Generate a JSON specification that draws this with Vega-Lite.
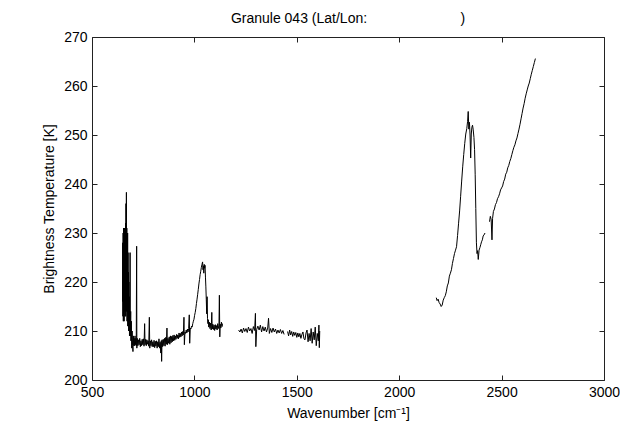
{
  "$schema": "https://vega.github.io/schema/vega-lite/v6.json",
  "autosize": "none",
  "width": 512,
  "height": 343,
  "padding": {"left": 92, "top": 37, "right": 16, "bottom": 47},
  "background": "white",
  "title": {"text": "Granule 043 (Lat/Lon:\u00a0\u00a0\u00a0\u00a0\u00a0\u00a0\u00a0\u00a0\u00a0\u00a0\u00a0\u00a0\u00a0\u00a0\u00a0\u00a0\u00a0\u00a0\u00a0\u00a0\u00a0\u00a0\u00a0\u00a0)", "anchor": "middle", "offset": 4},
  "config": {
    "font": "Liberation Sans",
    "view": {"stroke": "#222", "strokeWidth": 1},
    "title": {"font": "Liberation Sans", "fontSize": 14, "fontWeight": "normal", "color": "black"},
    "axis": {"labelFont": "Liberation Sans", "labelFontSize": 14, "labelColor": "black", "titleFont": "Liberation Sans", "titleFontSize": 14, "titleFontWeight": "normal", "titleColor": "black", "grid": false, "domain": false, "tickColor": "#222", "tickSize": -5, "labelPadding": 10, "labelFlush": false, "labelOverlap": false, "format": "d"}
  },
  "data": {"values": [
    {"s":"A","w":649,"t":216},{"s":"A","w":650,"t":228},{"s":"A","w":651,"t":213},{"s":"A","w":652,"t":230},{"s":"A","w":653,"t":212},{"s":"A","w":654,"t":231},{"s":"A","w":655,"t":214},{"s":"A","w":656,"t":229},{"s":"A","w":657,"t":212},{"s":"A","w":658,"t":231},{"s":"A","w":659,"t":215},{"s":"A","w":660,"t":230},{"s":"A","w":661,"t":213},{"s":"A","w":662,"t":231},{"s":"A","w":663,"t":214},{"s":"A","w":664,"t":232},{"s":"A","w":665,"t":213},{"s":"A","w":666,"t":236},{"s":"A","w":667,"t":215},{"s":"A","w":668,"t":238.3},{"s":"A","w":669,"t":214},{"s":"A","w":670,"t":231},{"s":"A","w":671,"t":212},{"s":"A","w":672,"t":229},{"s":"A","w":673,"t":214},{"s":"A","w":674,"t":230},{"s":"A","w":675,"t":211},{"s":"A","w":676,"t":226},{"s":"A","w":677,"t":211},{"s":"A","w":678,"t":222},{"s":"A","w":679,"t":210},{"s":"A","w":680,"t":220},{"s":"A","w":681,"t":212},{"s":"A","w":682,"t":217},{"s":"A","w":683,"t":209},{"s":"A","w":685,"t":213},{"s":"A","w":686,"t":226},{"s":"A","w":687,"t":209},{"s":"A","w":689,"t":214},{"s":"A","w":690,"t":208},{"s":"A","w":692,"t":212},{"s":"A","w":694,"t":206.5},{"s":"A","w":696,"t":210},{"s":"A","w":698,"t":207},{"s":"A","w":700,"t":205.8},{"s":"A","w":702,"t":209},{"s":"A","w":704,"t":207},{"s":"A","w":706,"t":208.5},{"s":"A","w":708,"t":207},{"s":"A","w":710,"t":209},{"s":"A","w":712,"t":207.2},{"s":"A","w":714,"t":208.5},{"s":"A","w":716,"t":207},{"s":"A","w":718,"t":227.3},{"s":"A","w":719,"t":206.5},{"s":"A","w":721,"t":208.5},{"s":"A","w":724,"t":207},{"s":"A","w":727,"t":208.2},{"s":"A","w":730,"t":207.2},{"s":"A","w":733,"t":208.5},{"s":"A","w":736,"t":206.8},{"s":"A","w":739,"t":208},{"s":"A","w":742,"t":207},{"s":"A","w":745,"t":208.3},{"s":"A","w":748,"t":207.2},{"s":"A","w":751,"t":208.4},{"s":"A","w":754,"t":206.9},{"s":"A","w":757,"t":211.5},{"s":"A","w":759,"t":207.2},{"s":"A","w":762,"t":208.3},{"s":"A","w":765,"t":207},{"s":"A","w":768,"t":208.2},{"s":"A","w":771,"t":207.3},{"s":"A","w":774,"t":208},{"s":"A","w":777,"t":206.9},{"s":"A","w":780,"t":212.8},{"s":"A","w":782,"t":206.5},{"s":"A","w":785,"t":208},{"s":"A","w":788,"t":207},{"s":"A","w":791,"t":208.2},{"s":"A","w":794,"t":206.8},{"s":"A","w":797,"t":207.8},{"s":"A","w":800,"t":206.8},{"s":"A","w":803,"t":208.1},{"s":"A","w":806,"t":206.6},{"s":"A","w":809,"t":207.9},{"s":"A","w":812,"t":206.9},{"s":"A","w":815,"t":208},{"s":"A","w":818,"t":206.5},{"s":"A","w":821,"t":207.8},{"s":"A","w":824,"t":206.8},{"s":"A","w":827,"t":208.4},{"s":"A","w":830,"t":206.5},{"s":"A","w":833,"t":207.7},{"s":"A","w":836,"t":205.5},{"s":"A","w":838,"t":208},{"s":"A","w":840,"t":203.8},{"s":"A","w":842,"t":208.2},{"s":"A","w":845,"t":206.8},{"s":"A","w":848,"t":208.3},{"s":"A","w":851,"t":207},{"s":"A","w":854,"t":208.5},{"s":"A","w":857,"t":206.9},{"s":"A","w":860,"t":208.7},{"s":"A","w":863,"t":207.3},{"s":"A","w":866,"t":210.6},{"s":"A","w":868,"t":207.2},{"s":"A","w":871,"t":208.5},{"s":"A","w":874,"t":207.5},{"s":"A","w":877,"t":208.8},{"s":"A","w":880,"t":207.3},{"s":"A","w":883,"t":209},{"s":"A","w":886,"t":207.6},{"s":"A","w":889,"t":208.9},{"s":"A","w":892,"t":207.8},{"s":"A","w":895,"t":209.1},{"s":"A","w":898,"t":208},{"s":"A","w":901,"t":209.2},{"s":"A","w":904,"t":208.1},{"s":"A","w":907,"t":209},{"s":"A","w":910,"t":208.3},{"s":"A","w":913,"t":209.3},{"s":"A","w":916,"t":208.5},{"s":"A","w":919,"t":209.2},{"s":"A","w":922,"t":208.4},{"s":"A","w":925,"t":209.6},{"s":"A","w":928,"t":208.7},{"s":"A","w":931,"t":209.5},{"s":"A","w":934,"t":208.8},{"s":"A","w":937,"t":209.8},{"s":"A","w":940,"t":209},{"s":"A","w":943,"t":209.9},{"s":"A","w":946,"t":209.2},{"s":"A","w":949,"t":212.8},{"s":"A","w":951,"t":207.2},{"s":"A","w":954,"t":209.8},{"s":"A","w":957,"t":209.5},{"s":"A","w":960,"t":210.2},{"s":"A","w":963,"t":209.6},{"s":"A","w":966,"t":210.4},{"s":"A","w":969,"t":209.8},{"s":"A","w":972,"t":210.5},{"s":"A","w":975,"t":213.3},{"s":"A","w":977,"t":207.5},{"s":"A","w":980,"t":210.6},{"s":"A","w":983,"t":210.4},{"s":"A","w":986,"t":211},{"s":"A","w":989,"t":210.8},{"s":"A","w":992,"t":211.5},{"s":"A","w":995,"t":212},{"s":"A","w":998,"t":212.4},{"s":"A","w":1001,"t":213.2},{"s":"A","w":1004,"t":213.8},{"s":"A","w":1007,"t":214.6},{"s":"A","w":1010,"t":215.6},{"s":"A","w":1013,"t":216.5},{"s":"A","w":1016,"t":217.5},{"s":"A","w":1019,"t":218.5},{"s":"A","w":1022,"t":219.6},{"s":"A","w":1025,"t":220.5},{"s":"A","w":1028,"t":221.5},{"s":"A","w":1031,"t":222.2},{"s":"A","w":1034,"t":223},{"s":"A","w":1037,"t":223.6},{"s":"A","w":1040,"t":224.1},{"s":"A","w":1042,"t":222.5},{"s":"A","w":1044,"t":223.3},{"s":"A","w":1046,"t":221.8},{"s":"A","w":1048,"t":223.6},{"s":"A","w":1050,"t":222.8},{"s":"A","w":1052,"t":223.4},{"s":"A","w":1054,"t":221},{"s":"A","w":1056,"t":219},{"s":"A","w":1058,"t":216.5},{"s":"A","w":1060,"t":213.5},{"s":"A","w":1062,"t":217},{"s":"A","w":1064,"t":212.5},{"s":"A","w":1066,"t":211.5},{"s":"A","w":1068,"t":212.3},{"s":"A","w":1070,"t":210.8},{"s":"A","w":1073,"t":211.8},{"s":"A","w":1076,"t":210.5},{"s":"A","w":1079,"t":211.6},{"s":"A","w":1082,"t":210.2},{"s":"A","w":1085,"t":213.8},{"s":"A","w":1087,"t":210.4},{"s":"A","w":1090,"t":211.4},{"s":"A","w":1093,"t":210.3},{"s":"A","w":1096,"t":211.2},{"s":"A","w":1099,"t":210.1},{"s":"A","w":1102,"t":211.3},{"s":"A","w":1105,"t":210.4},{"s":"A","w":1108,"t":211.1},{"s":"A","w":1111,"t":210.2},{"s":"A","w":1114,"t":211.5},{"s":"A","w":1117,"t":210.5},{"s":"A","w":1120,"t":211.2},{"s":"A","w":1122,"t":217.3},{"s":"A","w":1124,"t":208.8},{"s":"A","w":1126,"t":211.4},{"s":"A","w":1129,"t":210.6},{"s":"A","w":1132,"t":211.8},{"s":"A","w":1135,"t":210.9},{"s":"A","w":1137,"t":211.5},
    {"s":"B","w":1216,"t":210.2},{"s":"B","w":1222,"t":209.8},{"s":"B","w":1228,"t":210.4},{"s":"B","w":1234,"t":209.6},{"s":"B","w":1240,"t":210.6},{"s":"B","w":1246,"t":209.9},{"s":"B","w":1252,"t":210.5},{"s":"B","w":1258,"t":209.7},{"s":"B","w":1264,"t":210.8},{"s":"B","w":1270,"t":210},{"s":"B","w":1276,"t":210.5},{"s":"B","w":1282,"t":209.5},{"s":"B","w":1288,"t":210.9},{"s":"B","w":1294,"t":210.1},{"s":"B","w":1298,"t":213.6},{"s":"B","w":1300,"t":206.8},{"s":"B","w":1304,"t":210.3},{"s":"B","w":1310,"t":211},{"s":"B","w":1316,"t":210.2},{"s":"B","w":1322,"t":211.2},{"s":"B","w":1328,"t":209.8},{"s":"B","w":1334,"t":210.9},{"s":"B","w":1340,"t":210},{"s":"B","w":1346,"t":210.8},{"s":"B","w":1352,"t":209.8},{"s":"B","w":1358,"t":210.6},{"s":"B","w":1362,"t":212.6},{"s":"B","w":1366,"t":209.5},{"s":"B","w":1372,"t":210.5},{"s":"B","w":1378,"t":209.7},{"s":"B","w":1384,"t":210.6},{"s":"B","w":1390,"t":209.8},{"s":"B","w":1396,"t":210.4},{"s":"B","w":1402,"t":209.5},{"s":"B","w":1408,"t":210.2},{"s":"B","w":1414,"t":209.6},{"s":"B","w":1420,"t":210.3},{"s":"B","w":1426,"t":209.5},{"s":"B","w":1432,"t":210.1},{"s":"B","w":1438,"t":209.3},
    {"s":"B2","w":1455,"t":209.9},{"s":"B2","w":1460,"t":209},{"s":"B2","w":1465,"t":210.2},{"s":"B2","w":1470,"t":209.2},{"s":"B2","w":1475,"t":209.9},{"s":"B2","w":1480,"t":208.9},{"s":"B2","w":1485,"t":209.8},{"s":"B2","w":1490,"t":209.1},{"s":"B2","w":1495,"t":209.7},{"s":"B2","w":1500,"t":208.7},{"s":"B2","w":1505,"t":209.6},{"s":"B2","w":1510,"t":208.8},{"s":"B2","w":1515,"t":209.5},{"s":"B2","w":1520,"t":208.5},{"s":"B2","w":1525,"t":209.3},{"s":"B2","w":1530,"t":209.8},{"s":"B2","w":1535,"t":208.4},{"s":"B2","w":1540,"t":208.2},{"s":"B2","w":1545,"t":209.6},{"s":"B2","w":1550,"t":210.2},{"s":"B2","w":1555,"t":207.8},{"s":"B2","w":1560,"t":209.5},{"s":"B2","w":1565,"t":208},{"s":"B2","w":1570,"t":210.5},{"s":"B2","w":1575,"t":207.5},{"s":"B2","w":1580,"t":209.8},{"s":"B2","w":1585,"t":208.2},{"s":"B2","w":1590,"t":210.8},{"s":"B2","w":1595,"t":207},{"s":"B2","w":1600,"t":209.5},{"s":"B2","w":1605,"t":208},{"s":"B2","w":1608,"t":211.2},{"s":"B2","w":1610,"t":206.6},{"s":"B2","w":1612,"t":210},
    {"s":"C","w":2181,"t":216.8},{"s":"C","w":2185,"t":216.2},{"s":"C","w":2190,"t":216.5},{"s":"C","w":2195,"t":215.8},{"s":"C","w":2200,"t":215.5},{"s":"C","w":2205,"t":215},{"s":"C","w":2210,"t":215.3},{"s":"C","w":2215,"t":216.3},{"s":"C","w":2220,"t":216.8},{"s":"C","w":2225,"t":217.2},{"s":"C","w":2230,"t":218},{"s":"C","w":2235,"t":219.2},{"s":"C","w":2240,"t":219.8},{"s":"C","w":2245,"t":221.2},{"s":"C","w":2250,"t":221.8},{"s":"C","w":2255,"t":222.5},{"s":"C","w":2260,"t":223.8},{"s":"C","w":2265,"t":224.8},{"s":"C","w":2270,"t":225.8},{"s":"C","w":2275,"t":226.5},{"s":"C","w":2280,"t":227.2},{"s":"C","w":2285,"t":229.5},{"s":"C","w":2290,"t":232},{"s":"C","w":2295,"t":234.5},{"s":"C","w":2300,"t":237.5},{"s":"C","w":2305,"t":240.6},{"s":"C","w":2310,"t":243.5},{"s":"C","w":2315,"t":246},{"s":"C","w":2320,"t":248.3},{"s":"C","w":2325,"t":250.2},{"s":"C","w":2330,"t":251.3},{"s":"C","w":2334,"t":252.8},{"s":"C","w":2337,"t":254.8},{"s":"C","w":2340,"t":251.2},{"s":"C","w":2343,"t":252.6},{"s":"C","w":2346,"t":250},{"s":"C","w":2349,"t":245.3},{"s":"C","w":2352,"t":250.2},{"s":"C","w":2355,"t":251.6},{"s":"C","w":2358,"t":252},{"s":"C","w":2361,"t":251.2},{"s":"C","w":2365,"t":249.5},{"s":"C","w":2368,"t":247},{"s":"C","w":2371,"t":242},{"s":"C","w":2374,"t":235},{"s":"C","w":2377,"t":228},{"s":"C","w":2380,"t":225.8},{"s":"C","w":2383,"t":226.4},{"s":"C","w":2386,"t":224.6},{"s":"C","w":2390,"t":226.5},{"s":"C","w":2394,"t":227},{"s":"C","w":2398,"t":227.6},{"s":"C","w":2402,"t":228.2},{"s":"C","w":2406,"t":228.6},{"s":"C","w":2410,"t":229.4},{"s":"C","w":2414,"t":229.6},{"s":"C","w":2419,"t":230},
    {"s":"D","w":2441,"t":232.3},{"s":"D","w":2445,"t":233.4},{"s":"D","w":2449,"t":232.8},{"s":"D","w":2453,"t":228.6},{"s":"D","w":2456,"t":233},{"s":"D","w":2460,"t":234.4},{"s":"D","w":2465,"t":234.9},{"s":"D","w":2470,"t":235.8},{"s":"D","w":2475,"t":236.2},{"s":"D","w":2480,"t":237},{"s":"D","w":2485,"t":237.4},{"s":"D","w":2490,"t":238},{"s":"D","w":2495,"t":238.8},{"s":"D","w":2500,"t":239.2},{"s":"D","w":2505,"t":239.6},{"s":"D","w":2510,"t":240.5},{"s":"D","w":2515,"t":241},{"s":"D","w":2520,"t":242},{"s":"D","w":2525,"t":242.4},{"s":"D","w":2530,"t":243.3},{"s":"D","w":2535,"t":243.8},{"s":"D","w":2540,"t":244.6},{"s":"D","w":2545,"t":245.2},{"s":"D","w":2550,"t":246},{"s":"D","w":2555,"t":246.8},{"s":"D","w":2560,"t":247.5},{"s":"D","w":2565,"t":248},{"s":"D","w":2570,"t":248.8},{"s":"D","w":2575,"t":249.4},{"s":"D","w":2580,"t":250.3},{"s":"D","w":2585,"t":251.2},{"s":"D","w":2590,"t":252.2},{"s":"D","w":2595,"t":253.3},{"s":"D","w":2600,"t":254.4},{"s":"D","w":2605,"t":255.5},{"s":"D","w":2610,"t":256.4},{"s":"D","w":2615,"t":257.5},{"s":"D","w":2620,"t":258.4},{"s":"D","w":2625,"t":259.2},{"s":"D","w":2630,"t":260},{"s":"D","w":2635,"t":260.6},{"s":"D","w":2640,"t":261.5},{"s":"D","w":2645,"t":262.4},{"s":"D","w":2650,"t":263.2},{"s":"D","w":2655,"t":264},{"s":"D","w":2660,"t":264.8},{"s":"D","w":2665,"t":265.6}
  ]},
  "layer": [
    {
      "mark": {"type": "line", "color": "black", "strokeWidth": 1},
      "encoding": {
        "x": {"field": "w", "type": "quantitative", "scale": {"domain": [500, 3000], "nice": false, "zero": false}, "axis": {"values": [500, 1000, 1500, 2000, 2500, 3000], "title": "Wavenumber [cm⁻¹]", "titlePadding": 7}},
        "y": {"field": "t", "type": "quantitative", "scale": {"domain": [200, 270], "nice": false, "zero": false}, "axis": {"values": [200, 210, 220, 230, 240, 250, 260, 270], "title": "Brightness Temperature [K]", "titlePadding": 7}},
        "detail": {"field": "s"}
      }
    },
    {
      "mark": {"type": "point", "opacity": 0},
      "encoding": {
        "x": {"field": "w", "type": "quantitative", "scale": {"domain": [500, 3000], "nice": false, "zero": false}, "axis": {"orient": "top", "values": [500, 1000, 1500, 2000, 2500, 3000], "labels": false, "title": null}},
        "y": {"field": "t", "type": "quantitative", "scale": {"domain": [200, 270], "nice": false, "zero": false}, "axis": {"orient": "right", "values": [200, 210, 220, 230, 240, 250, 260, 270], "labels": false, "title": null}}
      }
    }
  ],
  "resolve": {"axis": {"x": "independent", "y": "independent"}}
}
